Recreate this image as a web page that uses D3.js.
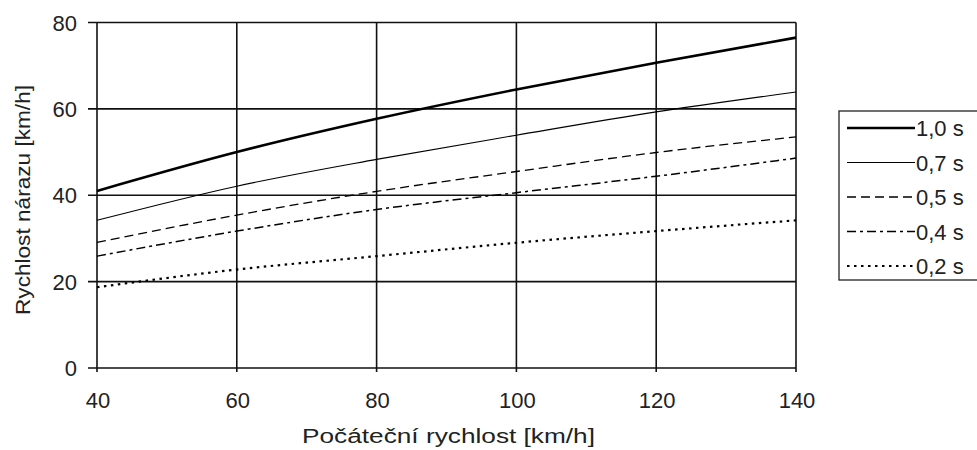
<!DOCTYPE html>
<html>
<head>
<meta charset="utf-8">
<script src="https://cdn.jsdelivr.net/npm/d3@7"></script>
<style>
  body { margin: 0; background: #fff; }
  text { font-family: "Liberation Sans", Arial, sans-serif; fill: #222; }
</style>
</head>
<body>
<svg width="977" height="450"></svg>
<script>
// data
var speeds = [40, 60, 80, 100, 120, 140];
var s10 = [41.0, 50.0, 57.7, 64.5, 70.7, 76.5];
var s07 = [34.2, 42.1, 48.3, 53.9, 59.3, 63.9];
var s05 = [29.1, 35.4, 40.9, 45.5, 49.9, 53.5];
var s04 = [25.9, 31.7, 36.7, 40.6, 44.4, 48.6];
var s02 = [18.7, 22.8, 25.9, 29.0, 31.7, 34.2];
var seriesNames = ["1,0 s", "0,7 s", "0,5 s", "0,4 s", "0,2 s"];
var yTicks = [0, 20, 40, 60, 80];

var series = [
  {name: seriesNames[0], values: s10, width: 2.6, dash: null},
  {name: seriesNames[1], values: s07, width: 1.1, dash: null},
  {name: seriesNames[2], values: s05, width: 1.3, dash: "9,5"},
  {name: seriesNames[3], values: s04, width: 1.5, dash: "9,4,3,4"},
  {name: seriesNames[4], values: s02, width: 2.2, dash: "2.5,4.5"}
];

var svg = d3.select("svg");

var x = d3.scaleLinear().domain([40, 140]).range([97, 796]);
var y = d3.scaleLinear().domain([0, 80]).range([368, 22.5]);

// grid
var grid = svg.append("g");
grid.selectAll("line.h")
  .data(yTicks)
  .enter().append("line")
  .attr("x1", x(40) - 9).attr("x2", x(140))
  .attr("y1", function (d) { return y(d); })
  .attr("y2", function (d) { return y(d); })
  .style("stroke", "#111").style("stroke-width", 1.6);
grid.selectAll("line.v")
  .data(speeds)
  .enter().append("line")
  .attr("x1", function (d) { return x(d); })
  .attr("x2", function (d) { return x(d); })
  .attr("y1", y(80)).attr("y2", y(0) + 4)
  .style("stroke", "#111").style("stroke-width", 1.6);

// axes labels
svg.append("g").selectAll("text")
  .data(yTicks)
  .enter().append("text")
  .attr("x", 77)
  .attr("y", function (d) { return y(d) + 8; })
  .attr("text-anchor", "end")
  .style("font-size", "22px")
  .text(function (d) { return d; });

svg.append("g").selectAll("text")
  .data(speeds)
  .enter().append("text")
  .attr("x", function (d) { return x(d) + 1; })
  .attr("y", 408)
  .attr("text-anchor", "middle")
  .style("font-size", "22px")
  .text(function (d) { return d; });

svg.append("text")
  .attr("x", 302)
  .attr("y", 443)
  .attr("textLength", 293)
  .attr("lengthAdjust", "spacingAndGlyphs")
  .style("font-size", "20px")
  .text("Počáteční rychlost [km/h]");

svg.append("text")
  .attr("transform", "translate(30,315) rotate(-90)")
  .attr("textLength", 230)
  .attr("lengthAdjust", "spacingAndGlyphs")
  .style("font-size", "20px")
  .text("Rychlost nárazu [km/h]");

// lines
var line = d3.line()
  .x(function (d, i) { return x(speeds[i]); })
  .y(function (d) { return y(d); })
  .curve(d3.curveMonotoneX);

svg.append("g").selectAll("path")
  .data(series)
  .enter().append("path")
  .attr("d", function (d) { return line(d.values); })
  .style("fill", "none")
  .style("stroke", "#000")
  .style("stroke-width", function (d) { return d.width; })
  .style("stroke-dasharray", function (d) { return d.dash; });

// legend
var legend = svg.append("g");
legend.append("rect")
  .attr("x", 839).attr("y", 111)
  .attr("width", 150).attr("height", 169)
  .style("fill", "#fff").style("stroke", "#222").style("stroke-width", 1.3);

var rows = legend.selectAll("g.row")
  .data(series)
  .enter().append("g")
  .attr("transform", function (d, i) { return "translate(0," + (128 + i * 34.5) + ")"; });
rows.append("line")
  .attr("x1", 847).attr("x2", 915)
  .style("stroke", "#000")
  .style("stroke-width", function (d) { return d.width; })
  .style("stroke-dasharray", function (d) { return d.dash; });
rows.append("text")
  .attr("x", 916)
  .attr("y", 8)
  .style("font-size", "22px")
  .text(function (d) { return d.name; });
</script>
</body>
</html>
